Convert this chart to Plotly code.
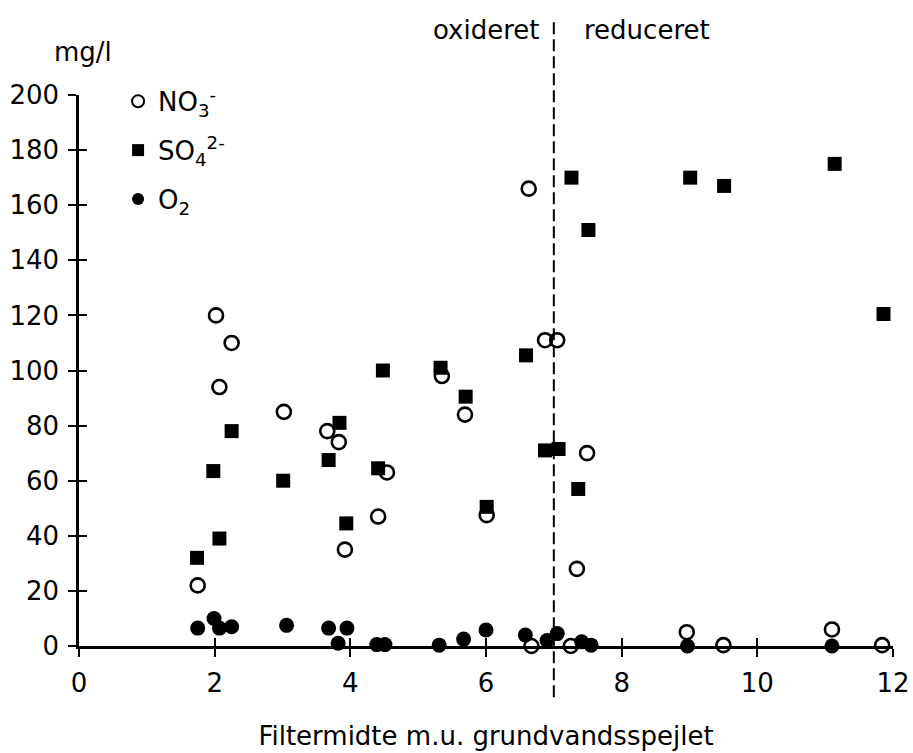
import plotly.graph_objects as go

# ---- data ----
no3_x = [1.75, 2.02, 2.07, 2.25, 3.02, 3.66, 3.83, 3.92, 4.41, 4.54, 5.35, 5.69,
         6.01, 6.63, 6.67, 6.87, 7.05, 7.25, 7.34, 7.49, 8.96, 9.50, 11.10, 11.84]
no3_y = [22, 120, 94, 110, 85, 78, 74, 35, 47, 63, 98, 84,
         47.5, 166, 0, 111, 111, 0, 28, 70, 5, 0.3, 6, 0.3]

so4_x = [1.74, 1.98, 2.07, 2.25, 3.01, 3.68, 3.84, 3.94, 4.41, 4.48, 5.33, 5.70,
         6.01, 6.59, 6.68, 6.87, 7.07, 7.26, 7.36, 7.51, 9.01, 9.51, 11.14, 11.86]
so4_y = [32, 63.5, 39, 78, 60, 67.5, 81, 44.5, 64.5, 100, 101, 90.5,
         50.5, 105.5, 201, 71, 71.5, 170, 57, 151, 170, 167, 175, 120.5]

o2_x = [1.75, 1.99, 2.07, 2.25, 3.06, 3.68, 3.82, 3.95, 4.39, 4.51, 5.31, 5.67,
        6.00, 6.58, 6.90, 7.05, 7.41, 7.55, 8.97, 11.10]
o2_y = [6.5, 10, 6.5, 7, 7.5, 6.5, 1, 6.5, 0.5, 0.5, 0.3, 2.5,
        5.8, 4, 2, 4.5, 1.5, 0.3, 0, 0]

x_ticks = [0, 2, 4, 6, 8, 10, 12]
y_ticks = [0, 20, 40, 60, 80, 100, 120, 140, 160, 180, 200]
boundary_x = 7
x_title = "Filtermidte m.u. grundvandsspejlet"
y_unit = "mg/l"
left_label = "oxideret"
right_label = "reduceret"

FONT = "DejaVu Sans"
FS = 26

fig = go.Figure()
fig.add_trace(go.Scatter(
    x=so4_x, y=so4_y, mode="markers", name="SO<sub>4</sub><sup>2-</sup>",
    legendgroup="b", legendrank=2,
    marker=dict(symbol="square", size=14, color="black", line=dict(width=0)),
    cliponaxis=False))
fig.add_trace(go.Scatter(
    x=no3_x, y=no3_y, mode="markers", name="NO<sub>3</sub><sup>-</sup>",
    legendgroup="a", legendrank=1,
    marker=dict(symbol="circle-open", size=14, color="black", line=dict(width=2.6)),
    cliponaxis=False))
fig.add_trace(go.Scatter(
    x=o2_x, y=o2_y, mode="markers", name="O<sub>2</sub>",
    legendgroup="c", legendrank=3,
    marker=dict(symbol="circle", size=15, color="black", line=dict(width=0)),
    cliponaxis=False))

axis_common = dict(showgrid=False, zeroline=False, color="black", automargin=False,
                   tickfont=dict(family=FONT, size=FS, color="black"))

fig.update_layout(
    width=913, height=753,
    margin=dict(l=79, r=20, t=95, b=107, autoexpand=False),
    paper_bgcolor="white", plot_bgcolor="white",
    font=dict(family=FONT, size=FS, color="black"),
    showlegend=True,
    legend=dict(x=0.048, y=1.031, xanchor="left", yanchor="top",
                bgcolor="rgba(0,0,0,0)", borderwidth=0,
                tracegroupgap=12, font=dict(family=FONT, size=FS),
                itemsizing="constant"),
    xaxis=dict(range=[0, 12], tickvals=x_ticks, ticks="outside", ticklen=8,
               tickwidth=2, showline=True, linewidth=2.5, linecolor="black",
               ticklabelstandoff=4,
               title=dict(text=x_title, standoff=30,
                          font=dict(family=FONT, size=FS)),
               **axis_common),
    yaxis=dict(range=[0, 200], tickvals=y_ticks, ticks="outside", ticklen=8,
               tickwidth=2, showline=True, linewidth=2.5, linecolor="black",
               ticklabelstandoff=4, **axis_common),
    xaxis2=dict(range=[0, 12], tickvals=x_ticks, ticks="inside", ticklen=8,
                tickwidth=2, showticklabels=False, showline=False,
                overlaying="x", anchor="y", side="bottom", automargin=False,
                showgrid=False, zeroline=False, tickcolor="black"),
    yaxis2=dict(range=[0, 200], tickvals=y_ticks, ticks="inside", ticklen=8,
                tickwidth=2, showticklabels=False, showline=False,
                overlaying="y", anchor="x", side="left", automargin=False,
                showgrid=False, zeroline=False, tickcolor="black"),
)

# invisible carrier so the overlay tick axes are drawn
fig.add_trace(go.Scatter(x=[], y=[], xaxis="x2", yaxis="y2", showlegend=False,
                         hoverinfo="skip"))

fig.add_shape(type="line", xref="x", yref="paper",
              x0=boundary_x, x1=boundary_x, y0=-0.093, y1=1.14,
              line=dict(color="black", width=2, dash="12px,5px"))

fig.add_annotation(text=left_label, xref="x", yref="paper", x=boundary_x,
                   y=1.118, xanchor="right", yanchor="middle", xshift=-12,
                   showarrow=False, font=dict(family=FONT, size=FS))
fig.add_annotation(text=right_label, xref="x", yref="paper", x=boundary_x,
                   y=1.118, xanchor="left", yanchor="middle", xshift=28,
                   showarrow=False, font=dict(family=FONT, size=FS))
fig.add_annotation(text=y_unit, xref="paper", yref="paper", x=0.005,
                   y=1.078, xanchor="center", yanchor="middle",
                   showarrow=False, font=dict(family=FONT, size=FS))

fig.write_html(
    "out.html",
    config={"displayModeBar": False},
    post_script="document.body.style.margin='0';"
                "document.documentElement.style.overflow='hidden';")
